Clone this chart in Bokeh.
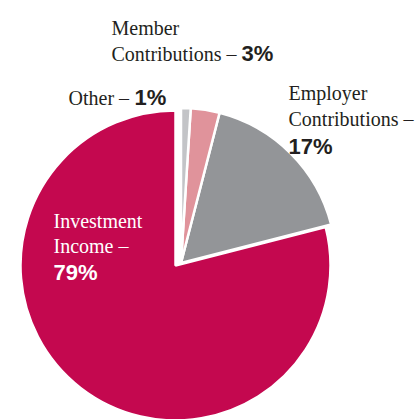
import math
from bokeh.plotting import figure
from bokeh.models import Range1d
from bokeh.core.properties import value
from bokeh.embed import file_html
from bokeh.resources import INLINE

# ---- data ----
categories = ["Investment Income", "Employer Contributions", "Member Contributions", "Other"]
shares = [79, 17, 3, 1]
colors = ["#C4084F", "#939598", "#E0939B", "#C3C4C7"]
exploded = [False, True, True, True]

W, H = 419, 419
p = figure(width=W, height=H, output_backend="svg", toolbar_location=None,
           x_range=Range1d(0, W), y_range=Range1d(0, H), min_border=0,
           outline_line_color=None)
p.axis.visible = False
p.grid.visible = False
p.background_fill_color = "white"
p.border_fill_color = "white"

cx, cy, r = 175, 154, 155
dx, dy = 5.5, 2.5

start = math.pi / 2
total = sum(shares)
for cat, s, c, ex in zip(categories, shares, colors, exploded):
    ang = 2 * math.pi * s / total
    x0 = cx + (dx if ex else 0)
    y0 = cy + (dy if ex else 0)
    p.wedge(x=[x0], y=[y0], radius=r, start_angle=[start], end_angle=[start + ang],
            direction="anticlock", fill_color=c, line_color="white", line_width=2.5)
    start += ang

serif = value("Liberation Serif")
sans = value("Liberation Sans")
dark = "#231F20"

def name(x, y, t, color=dark):
    p.text(x=[x], y=[y], text=[t], text_font=serif, text_font_size="20px",
           text_color=color, text_baseline="alphabetic", text_align="left")

def pct(x, y, v, color=dark):
    p.text(x=[x], y=[y], text=[f"{v}%"], text_font=sans, text_font_size="22px",
           text_font_style="bold", text_color=color, text_baseline="alphabetic",
           text_align="left")

# Member Contributions
name(111, 392, "Member")
name(111, 366, "Contributions –")
pct(241, 366, shares[2])
# Other
name(68, 322, "Other –")
pct(134, 322, shares[3])
# Employer
name(288, 327, "Employer")
name(288, 301, "Contributions –")
pct(288, 273, shares[1])
# Investment
name(53, 199, "Investment", "white")
name(53, 174, "Income –", "white")
pct(53, 147, shares[0], "white")

open("out.html", "w").write(file_html(p, INLINE))
